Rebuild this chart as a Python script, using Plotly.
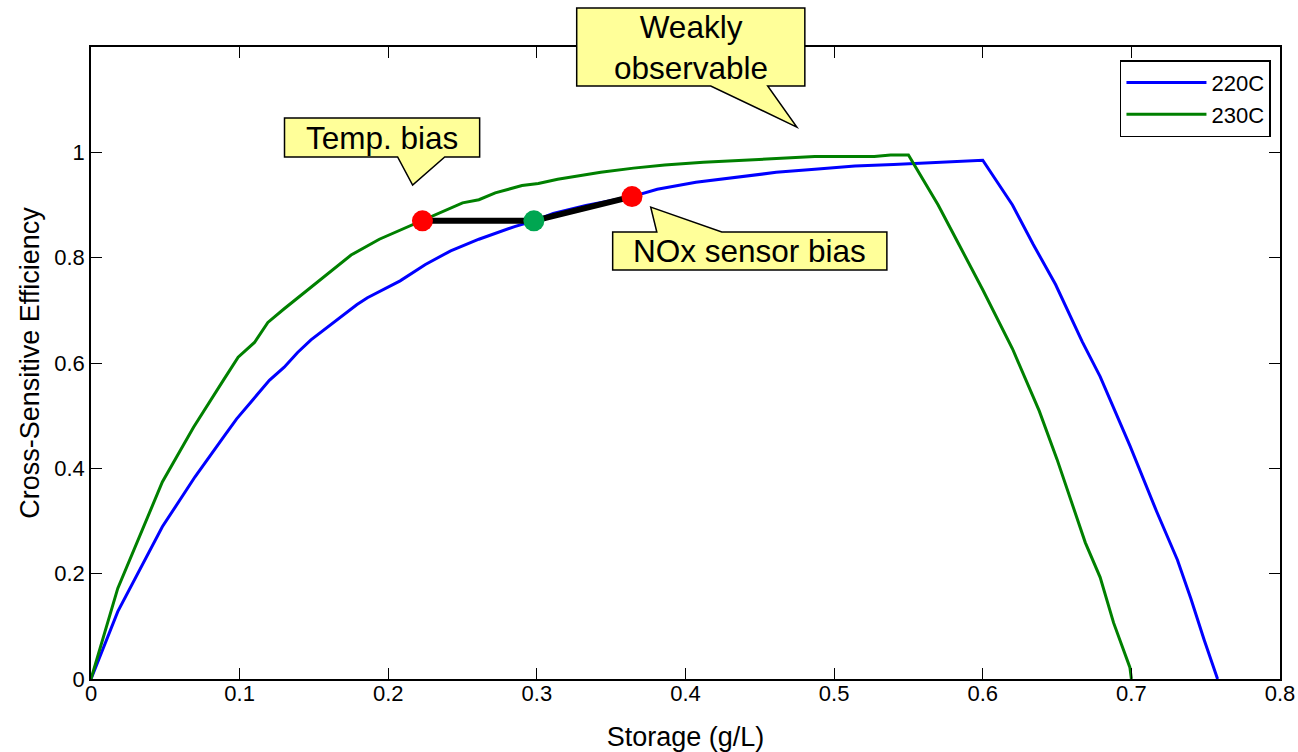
import plotly.graph_objects as go

# ---------------- data ----------------
x_220 = [0, 0.018, 0.048, 0.070, 0.089, 0.098, 0.120, 0.130, 0.139, 0.148, 0.179, 0.186,
         0.208, 0.225, 0.242, 0.261, 0.285, 0.298, 0.311, 0.333, 0.364, 0.381, 0.407, 0.434,
         0.461, 0.487, 0.514, 0.540, 0.572, 0.600, 0.620, 0.634, 0.649, 0.667, 0.679, 0.699,
         0.717, 0.731, 0.740, 0.749, 0.758]
y_220 = [0, 0.128, 0.289, 0.384, 0.459, 0.494, 0.567, 0.592, 0.620, 0.644, 0.711, 0.724,
         0.756, 0.787, 0.813, 0.835, 0.859, 0.870, 0.884, 0.899, 0.916, 0.930, 0.943, 0.952,
         0.962, 0.968, 0.974, 0.977, 0.982, 0.985, 0.900, 0.825, 0.749, 0.640, 0.574, 0.443,
         0.318, 0.226, 0.153, 0.074, 0]

x_230 = [0, 0.018, 0.048, 0.069, 0.089, 0.099, 0.110, 0.119, 0.130, 0.153, 0.175, 0.194,
         0.223, 0.250, 0.261, 0.272, 0.290, 0.301, 0.314, 0.343, 0.365, 0.386, 0.412, 0.439,
         0.460, 0.487, 0.527, 0.538, 0.550, 0.570, 0.584, 0.600, 0.620, 0.638, 0.650, 0.659,
         0.669, 0.679, 0.688, 0.699, 0.700]
y_230 = [0, 0.172, 0.374, 0.478, 0.567, 0.611, 0.639, 0.677, 0.703, 0.756, 0.805, 0.835,
         0.871, 0.904, 0.910, 0.923, 0.937, 0.941, 0.949, 0.962, 0.970, 0.976, 0.981, 0.985,
         0.988, 0.992, 0.992, 0.995, 0.995, 0.900, 0.825, 0.739, 0.627, 0.509, 0.417, 0.344,
         0.259, 0.193, 0.107, 0.022, 0]

series_names = ["220C", "230C"]

# bias path: temp-bias point (230C), nominal point, NOx-bias point (220C)
bias_x = [0.223, 0.298, 0.364]
bias_y = [0.870, 0.870, 0.916]
bias_colors = ["#FF0000", "#00A651", "#FF0000"]

x_ticks = [0, 0.1, 0.2, 0.3, 0.4, 0.5, 0.6, 0.7, 0.8]
x_ticklabels = ["0", "0.1", "0.2", "0.3", "0.4", "0.5", "0.6", "0.7", "0.8"]
y_ticks = [0, 0.2, 0.4, 0.6, 0.8, 1.0]
y_ticklabels = ["0", "0.2", "0.4", "0.6", "0.8", "1"]

X_RANGE = [0, 0.8]
Y_RANGE = [0, 1.2]

# callouts (data units): text, text position, box [x0, x1, y0, y1], tail base x's, tail tip, side
callouts = [
    dict(text="Temp. bias", tx=0.1959, ty=1.0281, box=[0.1302, 0.2615, 0.9911, 1.0651],
         base=[0.2063, 0.2380], tip=[0.2164, 0.9379], side="bottom"),
    dict(text="NOx sensor bias", tx=0.4433, ty=0.8126, box=[0.3510, 0.5355, 0.7765, 0.8487],
         base=[0.3807, 0.4244], tip=[0.3766, 0.8961], side="top"),
    dict(text="Weakly<br>observable", tx=0.4036, ty=1.2000, box=[0.3268, 0.4803, 1.1259, 1.2740],
         base=[0.4170, 0.4553], tip=[0.4749, 1.0480], side="bottom"),
]

FONT = "Liberation Sans, Arial, Helvetica, sans-serif"

fig = go.Figure()
fig.add_trace(go.Scatter(x=x_220, y=y_220, mode="lines", name=series_names[0],
                         line=dict(color="#0000FF", width=3)))
fig.add_trace(go.Scatter(x=x_230, y=y_230, mode="lines", name=series_names[1],
                         line=dict(color="#008000", width=3)))
fig.add_trace(go.Scatter(x=bias_x, y=bias_y, mode="lines", showlegend=False,
                         line=dict(color="black", width=6)))
fig.add_trace(go.Scatter(x=bias_x, y=bias_y, mode="markers", showlegend=False,
                         marker=dict(color=bias_colors, size=21, line=dict(width=0))))


def px(x):
    return (x - X_RANGE[0]) / (X_RANGE[1] - X_RANGE[0])


def py(y):
    return (y - Y_RANGE[0]) / (Y_RANGE[1] - Y_RANGE[0])


for c in callouts:
    x0, x1, y0, y1 = c["box"]
    b0, b1 = c["base"]
    tx, ty = c["tip"]
    if c["side"] == "bottom":
        pts = [(x0, y1), (x1, y1), (x1, y0), (b1, y0), (tx, ty), (b0, y0), (x0, y0)]
    else:
        pts = [(x0, y1), (b0, y1), (tx, ty), (b1, y1), (x1, y1), (x1, y0), (x0, y0)]
    path = "M " + " L ".join(f"{px(a):.5f},{py(b):.5f}" for a, b in pts) + " Z"
    fig.add_shape(type="path", path=path, xref="paper", yref="paper",
                  fillcolor="#FFFF99", line=dict(color="black", width=1.5), layer="above")
    fig.add_annotation(x=px(c["tx"]), y=py(c["ty"]), xref="paper", yref="paper",
                       text=c["text"], showarrow=False,
                       font=dict(family=FONT, size=31.5, color="black"),
                       xanchor="center", yanchor="middle")

axis_common = dict(showline=True, linecolor="black", linewidth=1.5, mirror="ticks",
                   ticks="inside", ticklen=11, tickwidth=1, tickcolor="black",
                   showgrid=False, zeroline=False, automargin=False,
                   tickfont=dict(family=FONT, size=22, color="black"))

fig.update_xaxes(range=X_RANGE, tickvals=x_ticks, ticktext=x_ticklabels,
                 ticklabelstandoff=-6,
                 title=dict(text="Storage (g/L)", font=dict(family=FONT, size=27, color="black"),
                            standoff=22),
                 **axis_common)
fig.update_yaxes(range=Y_RANGE, tickvals=y_ticks, ticktext=y_ticklabels,
                 title=dict(text="Cross-Sensitive Efficiency",
                            font=dict(family=FONT, size=27, color="black"), standoff=7),
                 **axis_common)

fig.update_layout(
    width=1298, height=752,
    margin=dict(l=91, r=18, t=47, b=73, pad=0),
    plot_bgcolor="white", paper_bgcolor="white",
    font=dict(family=FONT, color="black"),
    legend=dict(x=0.9924, y=0.979, xanchor="right", yanchor="top",
                bgcolor="white", bordercolor="black", borderwidth=1.5,
                font=dict(family=FONT, size=22, color="black"),
                itemwidth=80, tracegroupgap=0),
    showlegend=True,
)

fig.write_html("out.html", config={"displayModeBar": False},
               post_script="document.body.style.margin='0';document.body.style.overflow='hidden';")
